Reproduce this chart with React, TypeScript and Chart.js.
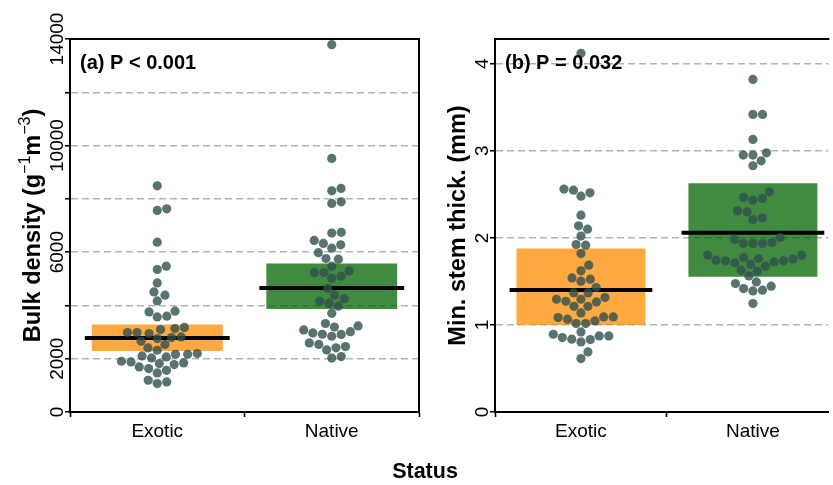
import React, { useEffect, useRef } from 'react';
import { Chart, registerables } from 'chart.js';

Chart.register(...registerables);

// ---- data ----
const categories = ['Exotic', 'Native'];

// Bulk density (g-1 m-3), one value per sample
const bulkExotic = [
  8490, 7626, 7566, 6375, 5473, 5349, 4846, 4508, 4384, 4170, 3783, 3757, 3595, 3569, 3175,
  3133, 3095, 2983, 2983, 2945, 2818, 2795, 2757, 2656, 2532, 2404, 2318, 2194, 2168, 2168,
  2104, 2066, 2029, 1905, 1878, 1841, 1818, 1781, 1690, 1630, 1566, 1466, 1191, 1127, 1067,
];
const bulkNative = [
  13787, 9519, 8392, 8302, 7889, 7829, 6745, 6715, 6440, 6326, 6275, 6150, 5980, 5762, 5736,
  5473, 5297, 5236, 5236, 5098, 5020, 4636, 4384, 4250, 4159, 4085, 3971, 3705, 3321, 3231,
  3190, 3080, 3015, 2968, 2919, 2910, 2844, 2592, 2538, 2455, 2410, 2330, 2080, 2025,
];
const bulkMean = [2780, 4658];
const bulkLower = [2291, 3869];
const bulkUpper = [3283, 5575];
const bulkTicks = [0, 2000, 4000, 6000, 8000, 10000, 12000, 14000];
const bulkTickLabels = ['0', '2000', '', '6000', '', '10000', '', '14000'];

// Minimum stem thickness (mm)
const stemExotic = [
  4.12, 2.56, 2.548, 2.517, 2.479, 2.261, 2.138, 2.1, 2.02, 1.924, 1.916, 1.82, 1.686, 1.621,
  1.54, 1.525, 1.502, 1.43, 1.368, 1.368, 1.315, 1.295, 1.295, 1.272, 1.264, 1.214, 1.214,
  1.138, 1.092, 1.092, 1.085, 1.066, 1.046, 1.016, 1.016, 0.92, 0.893, 0.874, 0.874, 0.855,
  0.836, 0.832, 0.805, 0.69, 0.614,
];
const stemNative = [
  3.82, 3.418, 3.418, 3.131, 2.977, 2.951, 2.951, 2.885, 2.828, 2.529, 2.464, 2.453, 2.433,
  2.31, 2.299, 2.23, 2.211, 2.004, 1.981, 1.947, 1.935, 1.935, 1.935, 1.801, 1.801, 1.775,
  1.763, 1.755, 1.744, 1.736, 1.736, 1.724, 1.713, 1.698, 1.675, 1.629, 1.617, 1.563, 1.494,
  1.476, 1.445, 1.418, 1.399, 1.391, 1.246,
];
const stemMean = [1.4, 2.06];
const stemLower = [1.0, 1.552];
const stemUpper = [1.878, 2.626];
const stemTicks = [0, 1, 2, 3, 4];
const stemTickLabels = ['0', '1', '2', '3', '4'];

// ---- styling ----
const FONT = "'Liberation Sans', Arial, Helvetica, sans-serif";
const POINT_COLOR = 'rgba(47, 79, 79, 0.8)';
const BOX_COLORS = ['rgba(255, 140, 0, 0.75)', 'rgba(0, 100, 0, 0.75)'];
const GRID_COLOR = '#b3b3b3';
const POINT_RADIUS = 4.6;
const SWARM_SPACING = 9.6;
const BOX_WIDTH = 0.75;
const MEAN_HALF_WIDTH = 0.415;

type TitlePart = { text: string; sup?: boolean };

type PanelSpec = {
  groups: number[][];
  mean: number[];
  lower: number[];
  upper: number[];
  ticks: number[];
  tickLabels: string[];
  yMax: number;
  xMax: number;
  padRight: number;
  drawRight: boolean;
  title: TitlePart[];
  note: string;
};

const bulkPanel: PanelSpec = {
  groups: [bulkExotic, bulkNative],
  mean: bulkMean,
  lower: bulkLower,
  upper: bulkUpper,
  ticks: bulkTicks,
  tickLabels: bulkTickLabels,
  yMax: 14000,
  xMax: 2.5,
  padRight: 6,
  drawRight: true,
  title: [
    { text: 'Bulk density (g' },
    { text: '\u22121', sup: true },
    { text: 'm' },
    { text: '\u22123', sup: true },
    { text: ')' },
  ],
  note: '(a) P < 0.001',
};

const stemPanel: PanelSpec = {
  groups: [stemExotic, stemNative],
  mean: stemMean,
  lower: stemLower,
  upper: stemUpper,
  ticks: stemTicks,
  tickLabels: stemTickLabels,
  yMax: 4.284,
  xMax: 2.439,
  padRight: 0,
  drawRight: false,
  title: [{ text: 'Min. stem thick. (mm)' }],
  note: '(b) P = 0.032',
};

// Beeswarm ("swarm" method, ascending priority): each point takes the
// offset closest to the centre that does not overlap points already placed.
function swarmOffsets(ys: number[], spacing: number): number[] {
  const order = ys.map((_, i) => i).sort((a, b) => ys[b] - ys[a]);
  const placedX: number[] = [];
  const placedY: number[] = [];
  const out = new Array(ys.length).fill(0);
  for (const i of order) {
    const y = ys[i];
    const near: [number, number][] = [];
    for (let k = 0; k < placedY.length; k++) {
      const dy = Math.abs(y - placedY[k]);
      if (dy < spacing) near.push([placedX[k], Math.sqrt(spacing * spacing - dy * dy)]);
    }
    const cands = [0, ...near.map(([px, o]) => px + o), ...near.map(([px, o]) => px - o)];
    let best = Infinity;
    for (const c of cands) {
      const ok = near.every(([px, o]) => Math.abs(c - px) >= o - 1e-6);
      if (ok && Math.abs(c) < Math.abs(best)) best = c;
    }
    out[i] = best;
    placedX.push(best);
    placedY.push(y);
  }
  return out;
}

function buildConfig(spec: PanelSpec): any {
  const pointSets = spec.groups.map((vals, g) => ({
    type: 'scatter',
    data: vals.map((v) => ({ x: g + 1, y: v })),
    backgroundColor: POINT_COLOR,
    borderWidth: 0,
    pointRadius: POINT_RADIUS,
    pointHoverRadius: POINT_RADIUS,
    order: 0,
  }));

  const meanData: any[] = [];
  spec.mean.forEach((m, g) => {
    if (g > 0) meanData.push({ x: g + 0.5, y: null });
    meanData.push({ x: g + 1 - MEAN_HALF_WIDTH, y: m });
    meanData.push({ x: g + 1 + MEAN_HALF_WIDTH, y: m });
  });

  const panelPlugin = {
    id: 'panelDecor',
    beforeDatasetsDraw(chart: any) {
      const { ctx, chartArea } = chart;
      ctx.save();
      ctx.strokeStyle = '#000';
      ctx.lineWidth = 2;
      ctx.beginPath();
      ctx.moveTo(chartArea.left - 1, chartArea.top);
      ctx.lineTo(chartArea.right + 1, chartArea.top);
      if (spec.drawRight) {
        ctx.moveTo(chartArea.right, chartArea.top);
        ctx.lineTo(chartArea.right, chartArea.bottom);
      }
      ctx.stroke();
      ctx.restore();
    },
    afterDatasetsDraw(chart: any) {
      const { ctx, chartArea } = chart;
      ctx.save();
      ctx.fillStyle = '#000';
      ctx.font = `bold 20px ${FONT}`;
      ctx.textAlign = 'left';
      ctx.textBaseline = 'alphabetic';
      ctx.fillText(spec.note, chartArea.left + 10, chartArea.top + 30);
      ctx.restore();
    },
    afterDraw(chart: any) {
      const { ctx, chartArea } = chart;
      const yScale = chart.scales.y;
      // rotated tick labels
      ctx.save();
      ctx.fillStyle = '#000';
      ctx.font = `19px ${FONT}`;
      ctx.textAlign = 'center';
      ctx.textBaseline = 'alphabetic';
      spec.ticks.forEach((v, i) => {
        const label = spec.tickLabels[i];
        if (!label) return;
        ctx.save();
        ctx.translate(chartArea.left - 7, yScale.getPixelForValue(v));
        ctx.rotate(-Math.PI / 2);
        ctx.fillText(label, 0, 0);
        ctx.restore();
      });
      ctx.restore();

      // y-axis title with superscripts
      const mainFont = `bold 23.5px ${FONT}`;
      const supFont = `16px ${FONT}`;
      ctx.save();
      ctx.fillStyle = '#000';
      ctx.textAlign = 'left';
      ctx.textBaseline = 'alphabetic';
      const widths = spec.title.map((p) => {
        ctx.font = p.sup ? supFont : mainFont;
        return ctx.measureText(p.text).width;
      });
      const total = widths.reduce((a, b) => a + b, 0);
      ctx.translate(chartArea.left - 30, (chartArea.top + chartArea.bottom) / 2);
      ctx.rotate(-Math.PI / 2);
      let x = -total / 2;
      spec.title.forEach((p, i) => {
        ctx.font = p.sup ? supFont : mainFont;
        ctx.fillText(p.text, x, p.sup ? -10 : 0);
        x += widths[i];
      });
      ctx.restore();
    },
  };

  return {
    type: 'bar',
    data: {
      datasets: [
        ...pointSets,
        {
          type: 'line',
          data: meanData,
          borderColor: '#000',
          borderWidth: 4,
          borderCapStyle: 'butt',
          pointRadius: 0,
          spanGaps: false,
          order: 1,
        },
        {
          type: 'bar',
          data: spec.lower.map((lo, g) => ({ x: g + 1, y: [lo, spec.upper[g]] })),
          backgroundColor: BOX_COLORS,
          borderWidth: 0,
          categoryPercentage: 1,
          barPercentage: BOX_WIDTH,
          order: 2,
        },
      ],
    },
    options: {
      animation: false,
      responsive: false,
      maintainAspectRatio: false,
      events: [],
      layout: { padding: { top: 39, right: spec.padRight, left: 0, bottom: 0 } },
      plugins: { legend: { display: false }, tooltip: { enabled: false } },
      scales: {
        x: {
          type: 'linear',
          min: 0.5,
          max: spec.xMax,
          offset: false,
          afterBuildTicks: (s: any) => {
            s.ticks = categories.map((_, i) => ({ value: i + 1 }));
          },
          afterFit: (s: any) => {
            s.height = 73;
          },
          grid: {
            drawOnChartArea: false,
            drawTicks: true,
            tickLength: 5,
            tickWidth: 1.6,
            tickColor: '#000',
            color: '#000',
          },
          border: { display: true, color: '#000', width: 2 },
          ticks: {
            callback: (v: number) => categories[Math.round(v) - 1] ?? '',
            font: { family: FONT, size: 19 },
            color: '#000',
            padding: 3,
            maxRotation: 0,
            autoSkip: false,
          },
        },
        y: {
          type: 'linear',
          min: 0,
          max: spec.yMax,
          afterBuildTicks: (s: any) => {
            s.ticks = spec.ticks.map((v) => ({ value: v }));
          },
          afterFit: (s: any) => {
            s.width = 70;
          },
          grid: {
            color: (c: any) =>
              c.tick && c.tick.value > 0 && c.tick.value < spec.yMax ? GRID_COLOR : 'rgba(0,0,0,0)',
            lineWidth: 1.5,
            drawTicks: true,
            tickLength: 5,
            tickWidth: 1.6,
            tickColor: '#000',
          },
          border: { display: true, color: '#000', width: 2, dash: [7, 4] },
          ticks: { display: false },
        },
      },
    },
    plugins: [panelPlugin],
  };
}

function Panel({ spec, left, width }: { spec: PanelSpec; left: number; width: number }) {
  const ref = useRef<HTMLCanvasElement | null>(null);
  useEffect(() => {
    if (!ref.current) return;
    const chart = new Chart(ref.current, buildConfig(spec));
    const xs = chart.scales.x;
    const ys = chart.scales.y;
    const pxPerUnit = xs.getPixelForValue(2) - xs.getPixelForValue(1);
    spec.groups.forEach((vals, g) => {
      const offs = swarmOffsets(
        vals.map((v) => ys.getPixelForValue(v)),
        SWARM_SPACING
      );
      (chart.data.datasets[g] as any).data = vals.map((v, k) => ({
        x: g + 1 + offs[k] / pxPerUnit,
        y: v,
      }));
    });
    chart.update();
    return () => chart.destroy();
  }, [spec]);
  return (
    <canvas
      ref={ref}
      width={width}
      height={485}
      style={{ position: 'absolute', left, top: 0, width, height: 485 }}
    />
  );
}

export default function App() {
  return (
    <div
      style={{
        position: 'absolute',
        left: 0,
        top: 0,
        width: 833,
        height: 485,
        background: '#fff',
        overflow: 'hidden',
      }}
    >
      <Panel spec={bulkPanel} left={0} width={425} />
      <Panel spec={stemPanel} left={425} width={408} />
      <div
        style={{
          position: 'absolute',
          left: 0,
          width: 850,
          top: 460.8,
          textAlign: 'center',
          fontFamily: FONT,
          fontWeight: 'bold',
          fontSize: 21.5,
          lineHeight: '21.5px',
          color: '#000',
        }}
      >
        Status
      </div>
    </div>
  );
}
